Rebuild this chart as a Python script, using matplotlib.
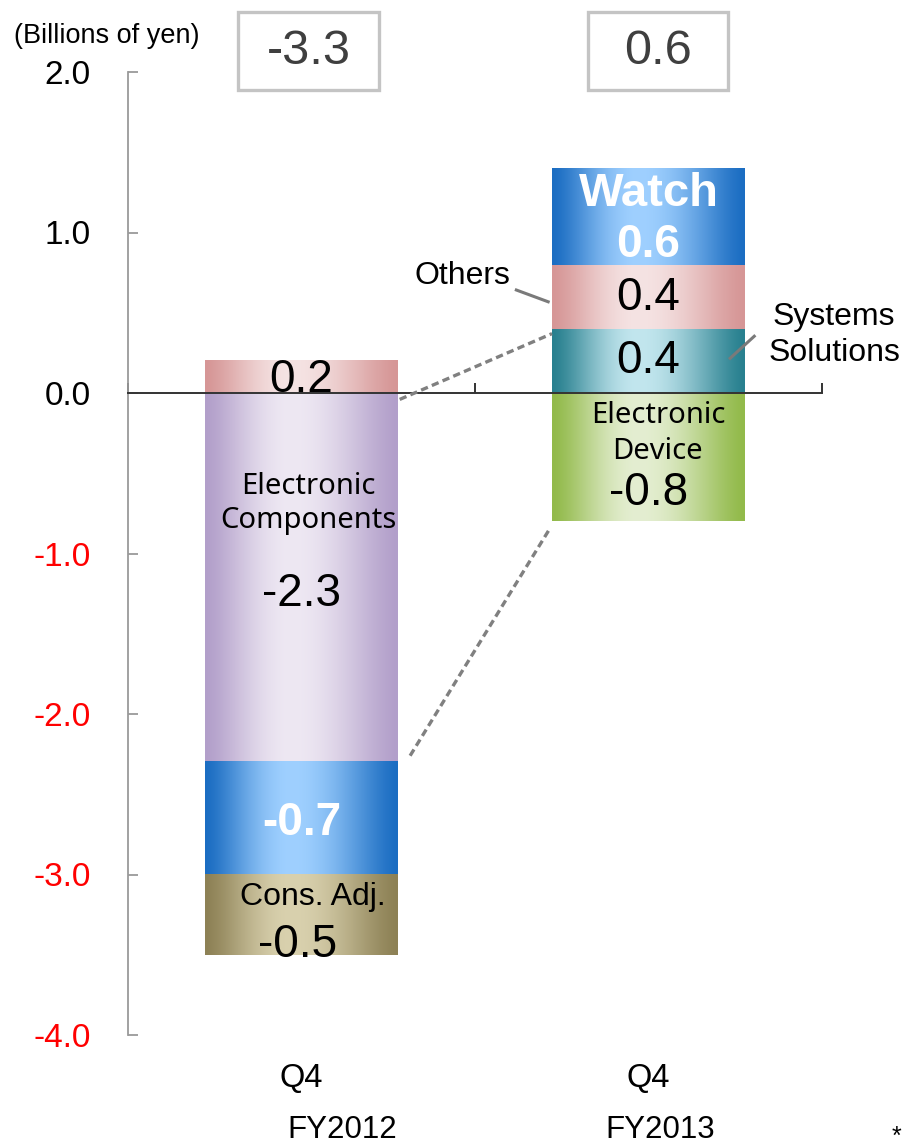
import numpy as np
import matplotlib
matplotlib.use("Agg")
import matplotlib.pyplot as plt
from matplotlib.colors import to_rgb
from matplotlib.patches import Rectangle

# ---- data -------------------------------------------------------------
years = ["FY2012", "FY2013"]
quarter = "Q4"
segments_fy2012 = ["Others", "Electronic Components", "Watch", "Cons. Adj."]
values_fy2012 = [0.2, -2.3, -0.7, -0.5]
segments_fy2013 = ["Systems Solutions", "Others", "Watch", "Electronic Device"]
values_fy2013 = [0.4, 0.4, 0.6, -0.8]
yticks = [2.0, 1.0, 0.0, -1.0, -2.0, -3.0, -4.0]
unit_label = "(Billions of yen)"

# ---- styling ----------------------------------------------------------
# (edge colour, centre highlight colour) for the cylinder-like shading
palette = {
    "Others": ("#d69696", "#f5e3e3"),
    "Electronic Components": ("#b29fca", "#eee8f3"),
    "Watch": ("#1b6dc2", "#9fd0ff"),
    "Cons. Adj.": ("#8d8155", "#d9d1ae"),
    "Systems Solutions": ("#28808f", "#c2e6ee"),
    "Electronic Device": ("#92ba4a", "#e4eed1"),
}
SANS = ["Liberation Sans", "DejaVu Sans"]
ROUND = ["Noto Sans", "DejaVu Sans"]

W, H = 904, 1147
fig = plt.figure(figsize=(W / 100, H / 100), dpi=100)
ax = fig.add_axes([128 / W, 1 - 1035 / H, (822 - 128) / W, (1035 - 72) / H])

bar_x = [0.5, 1.5]
bar_w = 0.556


def stack(values):
    """Positive parts stack up from zero, negative parts stack down."""
    pos, neg = 0.0, 0.0
    spans = []
    for v in values:
        if v >= 0:
            spans.append((pos, pos + v))
            pos += v
        else:
            spans.append((neg, neg + v))
            neg += v
    return spans


def shaded_rect(x0, x1, y0, y1, edge, centre):
    t = np.linspace(0, 1, 256)
    peak = 0.45
    d = np.where(t < peak, (peak - t) / peak, (t - peak) / (1 - peak))
    f = np.cos(d * np.pi / 2) ** 1.4
    e = np.array(to_rgb(edge))
    c = np.array(to_rgb(centre))
    img = e[None, :] + (c - e)[None, :] * f[:, None]
    ax.imshow(img[None, :, :], extent=(x0, x1, min(y0, y1), max(y0, y1)),
              aspect="auto", interpolation="bilinear", zorder=1)


all_segments = [segments_fy2012, segments_fy2013]
all_values = [values_fy2012, values_fy2013]
all_spans = []
for xc, segs, vals in zip(bar_x, all_segments, all_values):
    spans = stack(vals)
    all_spans.append(spans)
    for seg, (y0, y1) in zip(segs, spans):
        shaded_rect(xc - bar_w / 2, xc + bar_w / 2, y0, y1, *palette[seg])

ax.set_xlim(0, 2)
ax.set_ylim(-4, 2)

# ---- labels inside the bars ------------------------------------------
VAL_FS = 33
NAME_FS = 21
LABEL_FS = 23


def seg_span(i, name):
    return all_spans[i][all_segments[i].index(name)]


def seg_value(i, name):
    return all_values[i][all_segments[i].index(name)]


def val_text(i, name, y, color="black", bold=False, dx=0.0):
    ax.text(bar_x[i] + dx, y, f"{seg_value(i, name):.1f}", ha="center", va="center",
            fontsize=VAL_FS, color=color, fontweight="bold" if bold else "normal",
            family=SANS, zorder=5)


# FY2012
y0, y1 = seg_span(0, "Others")
val_text(0, "Others", (y0 + y1) / 2 - 0.02)
y0, y1 = seg_span(0, "Electronic Components")
ax.text(bar_x[0] + 0.02, y0 - 0.69, "Electronic\nComponents", ha="center", va="center",
        fontsize=NAME_FS, family=ROUND, linespacing=1.22, zorder=5)
val_text(0, "Electronic Components", y0 - 1.25)
y0, y1 = seg_span(0, "Watch")
val_text(0, "Watch", (y0 + y1) / 2 - 0.03, color="white", bold=True)
y0, y1 = seg_span(0, "Cons. Adj.")
ax.text(bar_x[0] + 0.033, y0 - 0.14, "Cons. Adj.", ha="center", va="center",
        fontsize=LABEL_FS, family=SANS, zorder=5)
val_text(0, "Cons. Adj.", y0 - 0.44, dx=-0.01)

# FY2013
y0, y1 = seg_span(1, "Systems Solutions")
val_text(1, "Systems Solutions", (y0 + y1) / 2)
y0, y1 = seg_span(1, "Others")
val_text(1, "Others", (y0 + y1) / 2 - 0.01)
y0, y1 = seg_span(1, "Watch")
ax.text(bar_x[1], y1 - 0.16, "Watch", ha="center", va="center", fontsize=34,
        fontweight="bold", color="white", family=SANS, zorder=5)
val_text(1, "Watch", y0 + 0.12, color="white", bold=True)
y0, y1 = seg_span(1, "Electronic Device")
ax.text(bar_x[1] + 0.027, y0 - 0.25, "Electronic\nDevice", ha="center", va="center",
        fontsize=NAME_FS, family=ROUND, linespacing=1.32, zorder=5)
val_text(1, "Electronic Device", y0 - 0.62)

# ---- call-outs ---------------------------------------------------------
lead = dict(color="#7a7a7a", lw=2.2, solid_capstyle="butt", zorder=4)
oy0, oy1 = seg_span(1, "Others")
ax.plot([1.115, 1.215], [0.645, 0.565], **lead)
ax.text(0.965, 0.73, "Others", ha="center", va="center", fontsize=LABEL_FS, family=SANS)
sy0, sy1 = seg_span(1, "Systems Solutions")
ax.plot([1.732, 1.808], [0.21, 0.36], **lead)
ax.text(2.035, 0.36, "Systems\nSolutions", ha="center", va="center", fontsize=LABEL_FS,
        family=SANS, linespacing=1.25)

# dashed links: FY2012 Electronic Components -> FY2013 Systems Solutions + Electronic Device
ec0, ec1 = seg_span(0, "Electronic Components")
dash = dict(color="#808080", lw=2.4, linestyle=(0, (2.2, 1.3)), zorder=4)
xr = bar_x[0] + bar_w / 2
xl = bar_x[1] - bar_w / 2
ax.plot([xr + 0.005, xl], [ec0 - 0.04, sy1 - 0.03], **dash)
ax.plot([xr + 0.035, xl - 0.005], [ec1 + 0.04, seg_span(1, "Electronic Device")[1] - 0.04], **dash)

# ---- totals in boxes ------------------------------------------------
box_cx = [0.52, 1.528]
box_w, box_h = 0.405, 0.485
for cx, vals in zip(box_cx, all_values):
    total = round(sum(vals), 1)
    ax.add_patch(Rectangle((cx - box_w / 2, 1.887), box_w, box_h, fill=False,
                           edgecolor="#c4c4c4", lw=2.4, clip_on=False, zorder=5))
    ax.text(cx, 1.887 + box_h / 2, f"{total:.1f}", ha="center", va="center",
            fontsize=35, color="#3f3f3f", family=SANS, clip_on=False)

# ---- axes ------------------------------------------------------------
for s in ["top", "right"]:
    ax.spines[s].set_visible(False)
ax.spines["left"].set_color("#9a9a9a")
ax.spines["left"].set_linewidth(1.3)
ax.spines["bottom"].set_position(("data", 0))
ax.spines["bottom"].set_color("#333333")
ax.spines["bottom"].set_linewidth(1.4)
ax.spines["bottom"].set_zorder(3)

ax.set_yticks(yticks)
ax.set_yticklabels([f"{v:.1f}" for v in yticks], family=SANS, fontsize=24)
for lab, v in zip(ax.get_yticklabels(), yticks):
    lab.set_color("#ff0000" if v < 0 else "black")
ax.tick_params(axis="y", direction="in", length=7, width=1.3, color="#9a9a9a", pad=27)
ax.set_xticks([0, 1, 2])
ax.set_xticklabels([])
ax.tick_params(axis="x", direction="in", length=7, width=1.4, color="#333333")

for xc, yr, fx in zip(bar_x, years, [0.617, 1.533]):
    ax.text(xc, -4.27, quarter, ha="center", va="center", fontsize=23.5, family=SANS,
            clip_on=False)
    ax.text(fx, -4.64, yr, ha="center", va="baseline", fontsize=22.5, family=SANS,
            clip_on=False)

fig.text(14 / W, 1 - 36 / H, unit_label, ha="left", va="center", fontsize=19.5,
         family=SANS)
fig.text(896 / W, 1 - 1137 / H, "*", ha="center", va="center", fontsize=18,
         family=SANS)

fig.savefig("out.png", dpi=100)
